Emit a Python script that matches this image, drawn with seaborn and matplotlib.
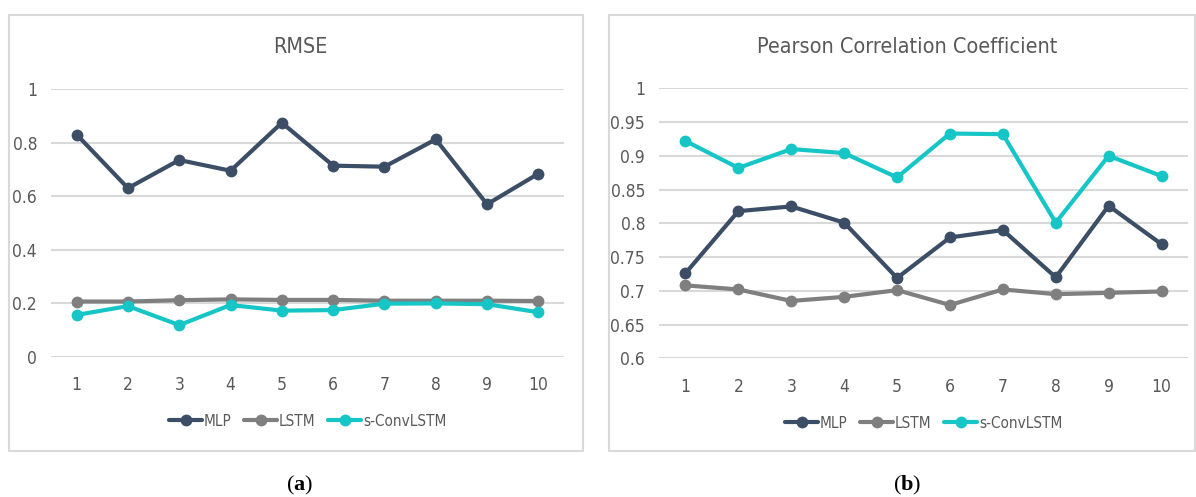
import pandas as pd
import numpy as np
import seaborn as sns
import matplotlib.pyplot as plt
from matplotlib.patches import Rectangle

runs = [1, 2, 3, 4, 5, 6, 7, 8, 9, 10]
models = ['MLP', 'LSTM', 's-ConvLSTM']

# RMSE per run
rmse_mlp = [0.83, 0.63, 0.735, 0.695, 0.874, 0.714, 0.71, 0.812, 0.57, 0.684]
rmse_lstm = [0.207, 0.207, 0.212, 0.215, 0.213, 0.213, 0.210, 0.210, 0.210, 0.209]
rmse_conv = [0.157, 0.19, 0.119, 0.194, 0.173, 0.175, 0.199, 0.200, 0.197, 0.167]

# Pearson correlation per run
pcc_mlp = [0.726, 0.818, 0.825, 0.801, 0.719, 0.779, 0.790, 0.720, 0.826, 0.769]
pcc_lstm = [0.708, 0.702, 0.685, 0.691, 0.701, 0.679, 0.702, 0.695, 0.697, 0.699]
pcc_conv = [0.922, 0.882, 0.910, 0.904, 0.868, 0.933, 0.932, 0.801, 0.900, 0.870]

rmse_ticks = [0, 0.2, 0.4, 0.6, 0.8, 1]
rmse_ticklabels = ['0', '0.2', '0.4', '0.6', '0.8', '1']
pcc_ticks = [0.6, 0.65, 0.7, 0.75, 0.8, 0.85, 0.9, 0.95, 1]
pcc_ticklabels = ['0.6', '0.65', '0.7', '0.75', '0.8', '0.85', '0.9', '0.95', '1']

palette = {'MLP': '#3B4E66', 'LSTM': '#7F7F7F', 's-ConvLSTM': '#16C6C6'}
txt = '#595959'

sns.set_theme(style='white')
plt.rcParams['font.family'] = ['DejaVu Sans']
plt.rcParams['font.stretch'] = 'condensed'
plt.rcParams['mathtext.fontset'] = 'custom'
plt.rcParams['mathtext.rm'] = 'Liberation Serif'
plt.rcParams['mathtext.bf'] = 'Liberation Serif:bold'


def long_df(a, b, c):
    return pd.DataFrame({
        'run': runs * 3,
        'value': a + b + c,
        'model': ['MLP'] * 10 + ['LSTM'] * 10 + ['s-ConvLSTM'] * 10,
    })


W, H = 1196, 497
fig = plt.figure(figsize=(W / 100, H / 100), dpi=100)

# panel frames
for (x0, x1) in [(9, 583), (609, 1195)]:
    fig.patches.append(Rectangle((x0 / W, (H - 451) / H), (x1 - x0) / W, 436 / H,
                                 transform=fig.transFigure, fill=False,
                                 edgecolor='#D9D9D9', lw=1.5))

ax1 = fig.add_axes([51 / W, (H - 357) / H, 513 / W, 268 / H])
ax2 = fig.add_axes([659 / W, (H - 358.3) / H, 529 / W, 270 / H])

panels = [
    (ax1, long_df(rmse_mlp, rmse_lstm, rmse_conv), 'RMSE', (0, 1), rmse_ticks, rmse_ticklabels, 300),
    (ax2, long_df(pcc_mlp, pcc_lstm, pcc_conv), 'Pearson Correlation Coefficient', (0.6, 1),
     pcc_ticks, pcc_ticklabels, 907),
]

for ax, df, title, ylim, yt, ytl, cx in panels:
    sns.lineplot(data=df, x='run', y='value', hue='model', hue_order=models,
                 palette=palette, marker='o', markersize=8.5, markeredgewidth=0,
                 linewidth=3.0, ax=ax, clip_on=False, zorder=3)
    ax.set_xlim(0.5, 10.5)
    ax.set_ylim(*ylim)
    ax.set_xticks(runs)
    ax.set_xticklabels([str(r) for r in runs])
    ax.set_yticks(yt)
    ax.set_yticklabels(ytl)
    ax.set_xlabel('')
    ax.set_ylabel('')
    ax.grid(axis='y', color='#D9D9D9', lw=1.5)
    ax.set_axisbelow(True)
    for s in ax.spines.values():
        s.set_visible(False)
    ax.tick_params(axis='x', length=0, pad=14, labelsize=12.5, colors=txt)
    ax.tick_params(axis='y', length=0, pad=10, labelsize=12.5, colors=txt)
    fig.text(cx / W, (H - 47) / H, title, ha='center', va='center', fontsize=15.5, color=txt)
    h, l = ax.get_legend_handles_labels()
    ax.legend(h, l, loc='center', bbox_to_anchor=(0.5, -0.24), ncol=3, frameon=False,
              fontsize=11, labelcolor=txt, handlelength=2.2, handletextpad=0.1,
              columnspacing=0.8, numpoints=1)

fig.text(300 / W, (H - 485) / H, r'($\mathbf{a}$)', ha='center', va='center',
         fontsize=16, family='Liberation Serif', color='black')
fig.text(907 / W, (H - 485) / H, r'($\mathbf{b}$)', ha='center', va='center',
         fontsize=16, family='Liberation Serif', color='black')

fig.savefig('out.png', dpi=100)
